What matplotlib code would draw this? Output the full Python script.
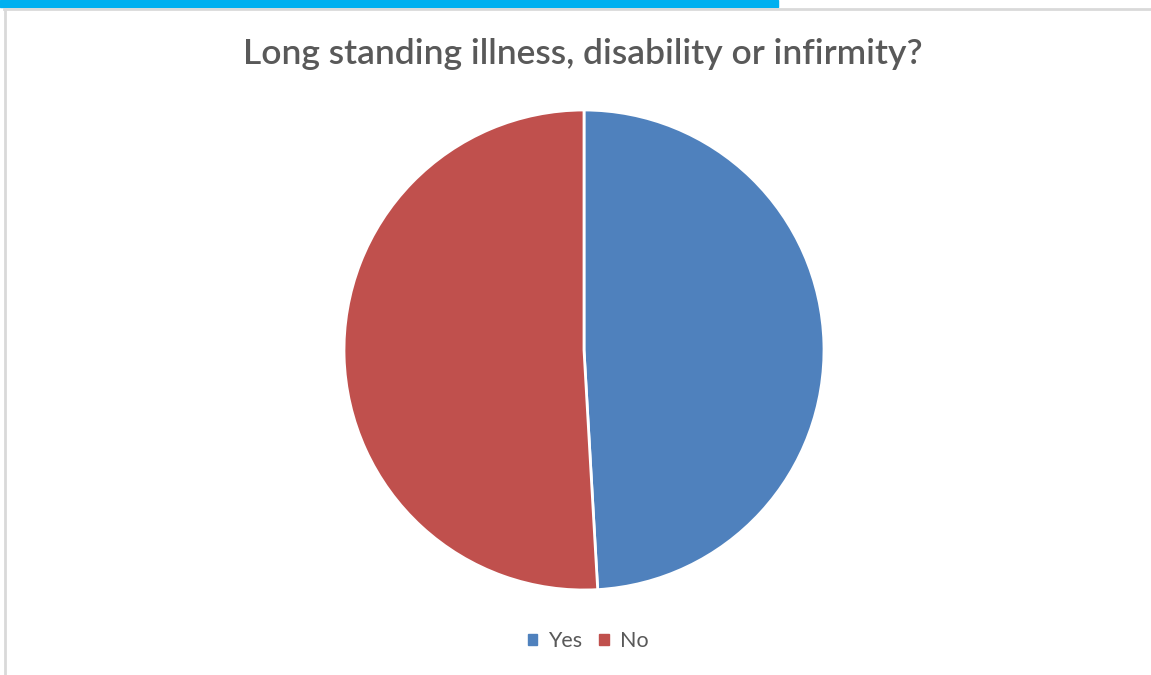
import matplotlib.pyplot as plt
from matplotlib.patches import Rectangle
from matplotlib.lines import Line2D

labels = ["Yes", "No"]
counts = [27, 28]
colours = ["#4F81BD", "#C0504D"]

plt.rcParams['font.family'] = ['Lato', 'DejaVu Sans']

fig = plt.figure(figsize=(11.51, 6.75), dpi=100)
W, H = 1151, 675

# top strip and chart border
fig.patches.append(Rectangle((0, 1 - 7 / H), 778 / W, 7 / H, transform=fig.transFigure,
                             color="#00B0F0", zorder=0))
fig.lines.append(Line2D([4 / W, 1], [1 - 8.5 / H, 1 - 8.5 / H], transform=fig.transFigure,
                        color="#D9D9D9", lw=2))
fig.lines.append(Line2D([4.5 / W, 4.5 / W], [0, 1 - 8.5 / H], transform=fig.transFigure,
                        color="#D9D9D9", lw=2))

ax = fig.add_axes([(584 - 240) / W, 1 - (350 + 240) / H, 480 / W, 480 / H])
ax.pie(counts, colors=colours, startangle=90, counterclock=False,
       wedgeprops=dict(edgecolor="white", linewidth=2))
ax.set_xlim(-1, 1)
ax.set_ylim(-1, 1)
ax.set_aspect("equal")
ax.axis("off")

fig.text(583 / W, 1 - 54 / H, "Long standing illness, disability or infirmity?",
         ha="center", va="center", fontsize=25.5, color="#595959", fontweight="semibold")

handles = [Rectangle((0, 0), 1, 1, color=c) for c in colours]
fig.legend(handles, labels, loc="center", bbox_to_anchor=(588 / W, 1 - 641 / H),
           ncol=2, frameon=False, fontsize=15.5, handlelength=0.45, handleheight=0.45,
           handletextpad=0.5, columnspacing=0.8, labelcolor="#595959")

fig.savefig("out.png", dpi=100)
